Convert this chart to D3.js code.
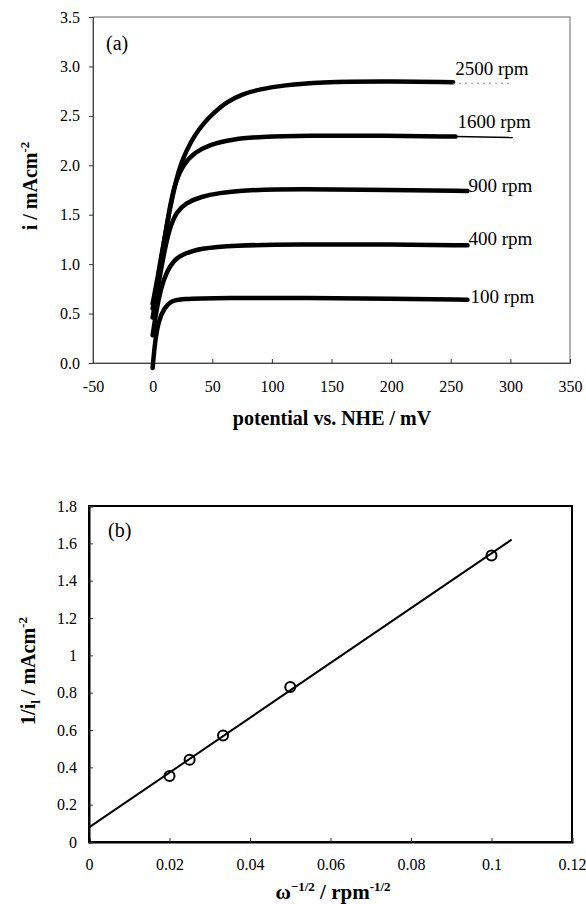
<!DOCTYPE html>
<meta charset="utf-8">
<script src="https://cdn.jsdelivr.net/npm/d3@7"></script>
<style>
  body { margin: 0; background: #fff; }
  svg text { font-family: "Liberation Serif", "Times New Roman", serif; fill: #000; }
</style>
<div id="chart"></div>
<script>

// ---- data ----
// panel (a): current i (mA cm-2) vs potential (mV) for each rotation rate
var rpmLabels = ["2500 rpm", "1600 rpm", "900 rpm", "400 rpm", "100 rpm"];
var c2500 = [[0, 0.60], [4, 0.85], [9, 1.20], [15, 1.60], [22, 1.97], [28, 2.14], [35, 2.30], [43, 2.43], [52, 2.54], [62, 2.64], [75, 2.72], [90, 2.77], [110, 2.81], [140, 2.84], [190, 2.85], [252, 2.84]];
var c1600 = [[0, 0.55], [4, 0.82], [9, 1.18], [14, 1.55], [18, 1.79], [25, 2.00], [35, 2.13], [48, 2.21], [65, 2.26], [90, 2.29], [130, 2.30], [190, 2.30], [254, 2.29]];
var c900 = [[0, 0.46], [4, 0.74], [9, 1.08], [14, 1.36], [20, 1.53], [28, 1.62], [40, 1.68], [55, 1.72], [80, 1.75], [120, 1.76], [200, 1.75], [264, 1.74]];
var c400 = [[0, 0.28], [3, 0.52], [7, 0.76], [12, 0.93], [18, 1.04], [25, 1.10], [40, 1.16], [67, 1.19], [120, 1.20], [200, 1.20], [264, 1.19]];
var c100 = [[0, -0.05], [2, 0.22], [5, 0.43], [10, 0.56], [15, 0.62], [22, 0.65], [60, 0.66], [130, 0.66], [200, 0.65], [264, 0.64]];
var curvesA = [c2500, c1600, c900, c400, c100];
// thin tails drawn past the thick traces
var tail1600 = [[254, 2.29], [302, 2.28]];
var tail2500 = [[252, 2.83], [302, 2.83]];

// panel (b): Koutecky-Levich plot
var invSqrtW = [0.02, 0.025, 0.0333, 0.05, 0.1];
var invIl = [0.353, 0.44, 0.57, 0.83, 1.535];
var fitX = [0, 0.105];
var fitY = [0.078, 1.62];

var xTicksA = [-50, 0, 50, 100, 150, 200, 250, 300, 350];
var yTicksA = [0, 0.5, 1, 1.5, 2, 2.5, 3, 3.5];
var xTicksB = [0, 0.02, 0.04, 0.06, 0.08, 0.1, 0.12];
var yTicksB = [0, 0.2, 0.4, 0.6, 0.8, 1, 1.2, 1.4, 1.6, 1.8];

var FONT = "Liberation Serif, Times New Roman, serif";
var W = 586, H = 904;
var svg = d3.select("#chart").append("svg")
  .attr("width", W).attr("height", H)
  .attr("font-family", FONT);

function styleAxis(g, domainWidth, color) {
  g.attr("font-family", FONT);
  g.select(".domain").attr("stroke", color).attr("stroke-width", domainWidth);
  g.selectAll("line").attr("stroke", "#333");
  g.selectAll("text").attr("font-family", FONT).style("font-size", "16px");
}

// ================= panel (a) =================
var a = {left: 93, right: 570, top: 17, bottom: 363};
var xA = d3.scaleLinear().domain([-50, 350]).range([a.left, a.right]);
var yA = d3.scaleLinear().domain([0, 3.5]).range([a.bottom, a.top]);

var gA = svg.append("g");

// frame
gA.append("rect")
  .attr("x", a.left).attr("y", a.top)
  .attr("width", a.right - a.left).attr("height", a.bottom - a.top)
  .attr("fill", "none").attr("stroke", "#666").attr("stroke-width", 1);

// axes
gA.append("g")
  .attr("transform", "translate(0," + a.bottom + ")")
  .call(d3.axisBottom(xA).tickValues(xTicksA).tickSize(-4).tickPadding(18)
        .tickFormat(function(d) { return String(d); }))
  .call(styleAxis, 1, "#444");

gA.append("g")
  .attr("transform", "translate(" + a.left + ",0)")
  .call(d3.axisLeft(yA).tickValues(yTicksA).tickSize(4).tickPadding(9)
        .tickFormat(d3.format(".1f")))
  .call(styleAxis, 1, "#444");

var lineA = d3.line()
  .x(function(d) { return xA(d[0]); })
  .y(function(d) { return yA(d[1]); })
  .curve(d3.curveBasis);

gA.selectAll(".curve")
  .data(curvesA)
  .enter().append("path")
  .attr("class", "curve")
  .attr("d", lineA)
  .attr("fill", "none")
  .attr("stroke", "#000")
  .attr("stroke-width", 4.5)
  .attr("stroke-linecap", "round")
  .attr("stroke-linejoin", "round");

gA.append("path").attr("d", lineA(tail1600))
  .attr("fill", "none").attr("stroke", "#000").attr("stroke-width", 1.5);
gA.append("path").attr("d", lineA(tail2500))
  .attr("fill", "none").attr("stroke", "#888").attr("stroke-width", 1.2)
  .attr("stroke-dasharray", "2,4");

// rpm labels next to the curve ends
var labelEnds = [c2500, c1600, c900, c400, c100];
var labelDy = [-7, -9, 1, 0, 3];
var labelDx = [2, 2, 1, 1, 3];
gA.selectAll(".rpm")
  .data(rpmLabels)
  .enter().append("text")
  .attr("class", "rpm")
  .attr("x", function(d, i) { var p = labelEnds[i][labelEnds[i].length - 1]; return xA(p[0]) + labelDx[i]; })
  .attr("y", function(d, i) { var p = labelEnds[i][labelEnds[i].length - 1]; return yA(p[1]) + labelDy[i]; })
  .style("font-size", "19px")
  .text(function(d) { return d; });

gA.append("text").attr("x", 106).attr("y", 50)
  .style("font-size", "20px").text("(a)");

// axis titles
gA.append("text")
  .attr("x", 332).attr("y", 425)
  .attr("text-anchor", "middle")
  .style("font-size", "20px").style("font-weight", "bold")
  .text("potential vs. NHE / mV");

var yTitleA = gA.append("text")
  .attr("transform", "translate(37,186) rotate(-90)")
  .attr("text-anchor", "middle")
  .style("font-size", "20px").style("font-weight", "bold");
yTitleA.append("tspan").text("i / mAcm");
yTitleA.append("tspan").attr("dy", -8).style("font-size", "13px").text("-2");

// ================= panel (b) =================
var b = {left: 89, right: 572, top: 506, bottom: 842};
var xB = d3.scaleLinear().domain([0, 0.12]).range([b.left, b.right]);
var yB = d3.scaleLinear().domain([0, 1.8]).range([b.bottom, b.top]);

var gB = svg.append("g");

gB.append("rect")
  .attr("x", b.left).attr("y", b.top)
  .attr("width", b.right - b.left).attr("height", b.bottom - b.top)
  .attr("fill", "none").attr("stroke", "#000").attr("stroke-width", 2);

gB.append("g")
  .attr("transform", "translate(0," + b.bottom + ")")
  .call(d3.axisBottom(xB).tickValues(xTicksB).tickSize(-4).tickPadding(17)
        .tickFormat(function(d) { return String(+d.toFixed(2)); }))
  .call(styleAxis, 2, "#000");

gB.append("g")
  .attr("transform", "translate(" + b.left + ",0)")
  .call(d3.axisLeft(yB).tickValues(yTicksB).tickSize(-4).tickPadding(12)
        .tickFormat(function(d) { return String(+d.toFixed(1)); }))
  .call(styleAxis, 2, "#000");

// fitted line
gB.append("path")
  .attr("d", d3.line()(fitX.map(function(x, i) { return [xB(x), yB(fitY[i])]; })))
  .attr("fill", "none").attr("stroke", "#000").attr("stroke-width", 2);

// data points
gB.selectAll(".pt")
  .data(invSqrtW)
  .enter().append("circle")
  .attr("class", "pt")
  .attr("cx", function(d) { return xB(d); })
  .attr("cy", function(d, i) { return yB(invIl[i]); })
  .attr("r", 5)
  .attr("fill", "none").attr("stroke", "#000").attr("stroke-width", 2);

gB.append("text").attr("x", 108).attr("y", 537)
  .style("font-size", "20px").text("(b)");

var xTitleB = gB.append("text")
  .attr("x", 333).attr("y", 899)
  .attr("text-anchor", "middle")
  .style("font-size", "21px").style("font-weight", "bold");
xTitleB.append("tspan").text("\u03c9");
xTitleB.append("tspan").attr("dy", -8).style("font-size", "13px").text("\u22121/2");
xTitleB.append("tspan").attr("dy", 8).text(" / rpm");
xTitleB.append("tspan").attr("dy", -8).style("font-size", "13px").text("-1/2");

var yTitleB = gB.append("text")
  .attr("transform", "translate(35,671) rotate(-90)")
  .attr("text-anchor", "middle")
  .style("font-size", "20px").style("font-weight", "bold");
yTitleB.append("tspan").text("1/i");
yTitleB.append("tspan").attr("dy", 5).style("font-size", "13px").text("l");
yTitleB.append("tspan").attr("dy", -5).text(" / mAcm");
yTitleB.append("tspan").attr("dy", -8).style("font-size", "13px").text("-2");

</script>
